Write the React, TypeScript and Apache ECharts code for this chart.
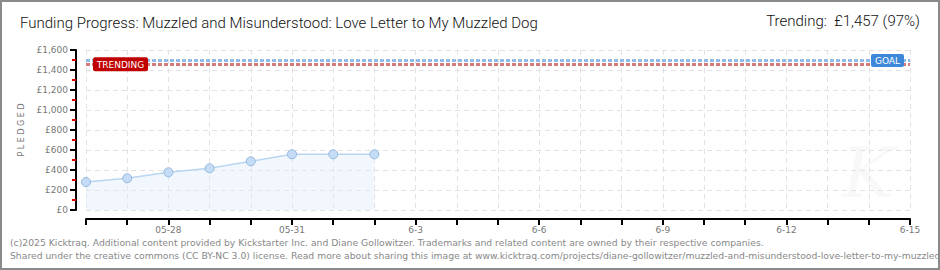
import React, { useEffect, useRef } from "react";
import * as echarts from "echarts";

const dates = [
  "05-26", "05-27", "05-28", "05-29", "05-30", "05-31", "6-1", "6-2", "6-3", "6-4", "6-5",
  "6-6", "6-7", "6-8", "6-9", "6-10", "6-11", "6-12", "6-13", "6-14", "6-15",
];
const pledged = [280, 317, 377, 417, 487, 557, 557, 557];
const goal = 1500;
const trending = 1457;
const yTicks = { min: 0, max: 1600, interval: 200 };
const titleText = "Funding Progress: Muzzled and Misunderstood: Love Letter to My Muzzled Dog";
const trendText = "Trending:  £1,457 (97%)";
const footer1 =
  "(c)2025 Kicktraq. Additional content provided by Kickstarter Inc. and Diane Gollowitzer. Trademarks and related content are owned by their respective companies.";
const footer2 =
  "Shared under the creative commons (CC BY-NC 3.0) license. Read more about sharing this image at www.kicktraq.com/projects/diane-gollowitzer/muzzled-and-misunderstood-love-letter-to-my-muzzled-dog/";

const fmtMoney = (v: number) => "£" + v.toLocaleString("en-US");

export default function App() {
  const ref = useRef<HTMLDivElement>(null);
  useEffect(() => {
    document.body.style.margin = "0";
    const chart = echarts.init(ref.current!, null, { renderer: "svg" });
    const axisFont = "DejaVu Sans";
    chart.setOption({
      animation: false,
      backgroundColor: "transparent",
      grid: { left: 86, right: 30, top: 50, bottom: 60, containLabel: false },
      xAxis: {
        type: "category",
        data: dates,
        boundaryGap: false,
        offset: 9,
        axisLine: { onZero: false, lineStyle: { color: "#000", width: 2 } },
        axisTick: { interval: 0, length: 6, inside: false, lineStyle: { color: "#000", width: 2 } },
        axisLabel: {
          interval: (i: number) => i >= 2 && (i - 2) % 3 === 0,
          color: "#777",
          fontFamily: axisFont,
          fontSize: 9,
          margin: 6,
        },
        splitLine: { show: true, interval: 0, lineStyle: { color: "#e2e2e2", type: [5, 4] } },
      },
      yAxis: {
        type: "value",
        min: yTicks.min,
        max: yTicks.max,
        interval: yTicks.interval,
        offset: 10,
        name: "P L E D G E D",
        nameLocation: "middle",
        nameGap: 45,
        nameTextStyle: { color: "#777", fontFamily: axisFont, fontSize: 8 },
        axisLine: { show: true, onZero: false, lineStyle: { color: "#000", width: 2 } },
        axisTick: { show: true, length: 6, lineStyle: { color: "#000", width: 2 } },
        minorTick: { show: true, splitNumber: 2, length: 4, lineStyle: { color: "#e00000", width: 2 } },
        axisLabel: {
          formatter: (v: number) => fmtMoney(v),
          color: "#777",
          fontFamily: axisFont,
          fontSize: 9,
          margin: 8,
        },
        splitLine: { show: true, lineStyle: { color: "#e2e2e2", type: [5, 4] } },
      },
      series: [
        {
          type: "line",
          data: pledged,
          symbol: "circle",
          symbolSize: 9,
          lineStyle: { color: "#b9d5f2", width: 1.5 },
          itemStyle: { color: "#c4dcf6", borderColor: "#94b8dd", borderWidth: 1 },
          areaStyle: { color: "rgba(222,236,250,0.6)" },
          z: 3,
          markLine: {
            silent: true,
            symbol: "none",
            label: { show: false },
            data: [
              { yAxis: goal, lineStyle: { color: "#8fbbe6", width: 3, type: [4, 2] } },
              { yAxis: trending, lineStyle: { color: "#d47a7a", width: 3, type: [4, 2] } },
            ],
          },
        },
      ],
    });

    const pT = chart.convertToPixel({ gridIndex: 0 }, [0, trending]) as number[];
    const pG = chart.convertToPixel({ gridIndex: 0 }, [dates.length - 1, goal]) as number[];
    chart.setOption({
      graphic: {
        elements: [
          {
            type: "text",
            left: 20,
            top: 15,
            style: { text: titleText, fontFamily: "Roboto", fontWeight: 300, fontSize: 15, fill: "#111" },
          },
          {
            type: "text",
            right: 20,
            top: 13,
            style: { text: trendText, fontFamily: "Roboto", fontWeight: 300, fontSize: 15, fill: "#111" },
          },
          {
            type: "text",
            left: 10,
            top: 238,
            style: { text: footer1, fontFamily: axisFont, fontSize: 9.25, fill: "#888" },
          },
          {
            type: "text",
            left: 10,
            top: 251,
            style: { text: footer2, fontFamily: axisFont, fontSize: 9.25, fill: "#888" },
          },
          {
            type: "text",
            left: 842,
            top: 138,
            z: -10,
            style: {
              text: "K",
              fontFamily: "DejaVu Serif",
              fontStyle: "italic",
              fontSize: 70,
              fill: "#f8f8f8",
            },
          },
          {
            type: "rect",
            x: pT[0] + 7,
            y: pT[1] - 7,
            z: 10,
            shape: { x: 0, y: 0, width: 55, height: 14, r: 2 },
            style: { fill: "#c00000" },
          },
          {
            type: "text",
            x: pT[0] + 7 + 27.5,
            y: pT[1] + 0.5,
            z: 11,
            style: {
              text: "TRENDING",
              fill: "#fff",
              fontFamily: axisFont,
              fontSize: 9,
              align: "center",
              verticalAlign: "middle",
            },
          },
          {
            type: "rect",
            x: pG[0] - 39,
            y: pG[1] - 6,
            z: 10,
            shape: { x: 0, y: 0, width: 33, height: 13, r: 2 },
            style: { fill: "#3d88d8" },
          },
          {
            type: "text",
            x: pG[0] - 39 + 16.5,
            y: pG[1] + 1,
            z: 11,
            style: {
              text: "GOAL",
              fill: "#fff",
              fontFamily: axisFont,
              fontSize: 9,
              align: "center",
              verticalAlign: "middle",
            },
          },
        ],
      },
    });
    return () => chart.dispose();
  }, []);
  return (
    <div
      style={{
        position: "fixed",
        left: 0,
        top: 0,
        width: 940,
        height: 270,
        boxSizing: "border-box",
        border: "2px solid #8a8a8a",
        background: "#fff",
      }}
    >
      <div ref={ref} style={{ position: "absolute", left: -2, top: -2, width: 940, height: 270 }} />
    </div>
  );
}
